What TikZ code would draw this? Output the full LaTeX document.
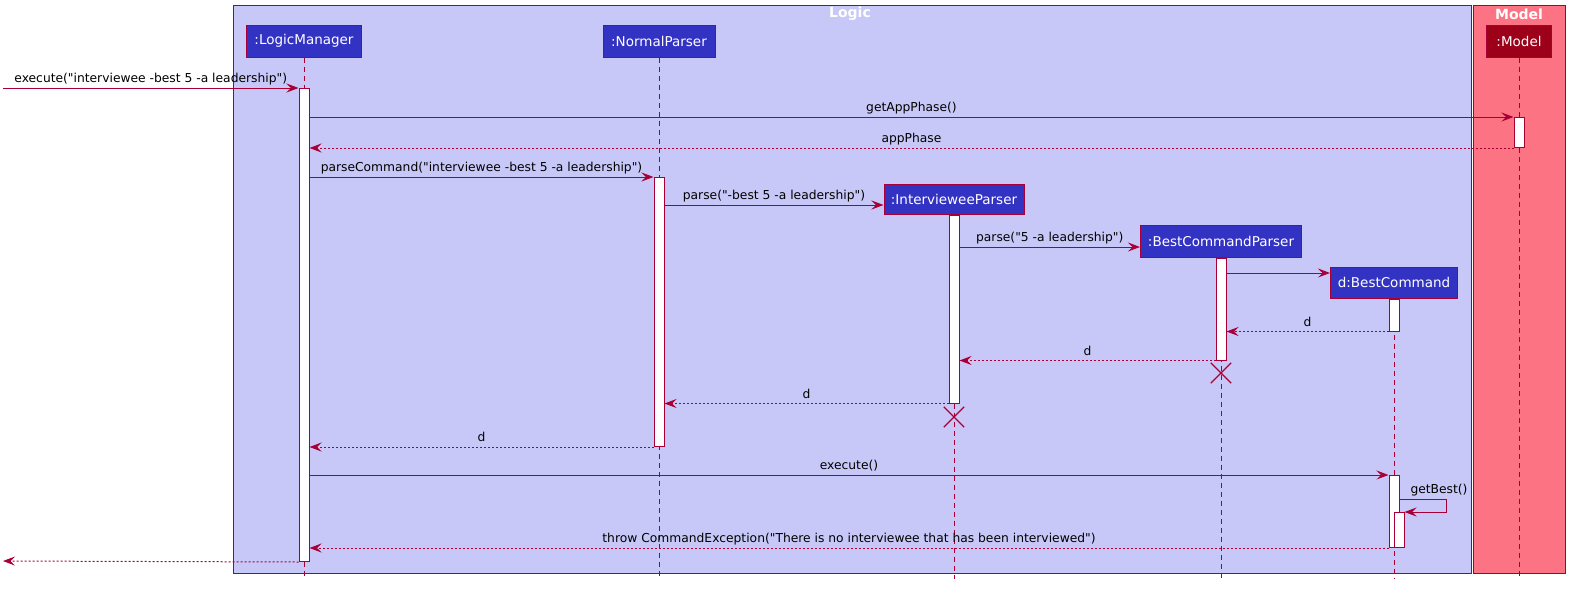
\documentclass[tikz,border=0pt]{standalone}
\usepackage{fontspec}
\setmainfont{DejaVu Sans}[Ligatures=TeXOff]
\usetikzlibrary{arrows.meta, shapes.misc}

\definecolor{umlborder}{HTML}{A80036}
\definecolor{logicfill}{HTML}{C8C8F8}
\definecolor{modelfill}{HTML}{FC7384}
\definecolor{partfill}{HTML}{3333C3}
\definecolor{modelpart}{HTML}{9D0019}

\begin{document}
\begin{tikzpicture}[x=1pt, y=-1pt, line width=1pt, font=\fontsize{12.3}{14}\selectfont]

\tikzset{part/.style = {draw=umlborder, fill=partfill, text=white, minimum height=32pt, inner sep=0pt, font=\fontsize{13.5}{16}\selectfont}}
\tikzset{bar/.style = {draw=umlborder, fill=white, minimum width=10pt, inner sep=0pt, anchor=north}}
\tikzset{lifeline/.style = {draw=umlborder, dash pattern=on 5pt off 4pt}}
\tikzset{msg/.style = {draw=umlborder, -{Stealth[length=12pt, width=9pt, inset=4.5pt]}}}
\tikzset{reply/.style = {msg, dash pattern=on 2pt off 2pt}}
\tikzset{lbl/.style = {above, inner sep=1pt, text depth=3pt, yshift=1pt}}
\tikzset{destroy/.style = {draw=umlborder, cross out, minimum size=19pt, inner sep=0pt, line width=1.3pt}}
\tikzset{boxtitle/.style = {text=white, font=\fontsize{14}{16}\selectfont\bfseries}}

\useasboundingbox (0,0) rectangle (1575,590);

%boxes
\draw [umlborder, fill=logicfill] (233,5) rectangle (1471,573);
\draw [umlborder, fill=modelfill] (1473,5) rectangle (1565,573);
\node [boxtitle] (logic) at (850,14) {Logic};
\node [boxtitle] (model) at (1519,14) {Model};

%participants
\node [part, minimum width=115pt] (lm) at (304,41) {:LogicManager};
\node [part, minimum width=112pt] (np) at (659,41) {:NormalParser};
\node [part, minimum width=65pt, fill=modelpart] (mdl) at (1519,41) {:Model};
\node [part, minimum width=140pt, minimum height=30pt] (ip) at (954,199) {:IntervieweeParser};
\node [part, minimum width=161pt] (bcp) at (1221,241) {:BestCommandParser};
\node [part, minimum width=127pt, minimum height=31pt] (bc) at (1394,282.5) {d:BestCommand};

%lifelines
\coordinate (bottom) at (0,579);
\foreach \p in {lm, np, mdl, ip, bcp, bc}
  \draw [lifeline] (\p.south) -- (\p.south |- bottom);

%activations
\node [bar, minimum height=473pt] (lmbar) at (304,88) {};
\node [bar, minimum height=30pt] (mdlbar) at (1519,117) {};
\node [bar, minimum height=269pt] (npbar) at (659,177) {};
\node [bar, minimum height=188pt] (ipbar) at (ip.south) {};
\node [bar, minimum height=102pt] (bcpbar) at (bcp.south) {};
\node [bar, minimum height=32pt] (bcbar) at (bc.south) {};
\node [bar, minimum height=72pt] (bcbar2) at (1394,475) {};
\node [bar, minimum height=35pt] (bcbar3) at (1399,512) {};

%destroyed
\node [destroy] (ipx) at (954,417) {};
\node [destroy] (bcpx) at (1221,373) {};

%messages
\coordinate (in) at (3,88);
\coordinate (out) at (3,561);
\coordinate (c1) at (0,205);
\coordinate (c2) at (0,247);
\coordinate (c3) at (0,273);
\coordinate (c4) at (1446,499);
\draw [msg] (in) -- (lmbar.north west) node [midway, lbl] {execute("interviewee -best 5 -a leadership")};
\draw [msg] (lmbar.east |- mdlbar.north) -- (mdlbar.north west) node [midway, lbl] {getAppPhase()};
\draw [reply] (mdlbar.south west) -- (lmbar.east |- mdlbar.south) node [midway, lbl] {appPhase};
\draw [msg] (lmbar.east |- npbar.north) -- (npbar.north west) node [midway, lbl] {parseCommand("interviewee -best 5 -a leadership")};
\draw [msg] (npbar.east |- c1) -- (ip.west |- c1) node [midway, lbl] {parse("-best 5 -a leadership")};
\draw [msg] (ipbar.east |- c2) -- (bcp.west |- c2) node [midway, lbl] {parse("5 -a leadership")};
\draw [msg] (bcpbar.east |- c3) -- (bc.west |- c3);
\draw [reply] (bcbar.south west) -- (bcpbar.east |- bcbar.south) node [midway, lbl] {d};
\draw [reply] (bcpbar.south west) -- (ipbar.east |- bcpbar.south) node [midway, lbl] {d};
\draw [reply] (ipbar.south west) -- (npbar.east |- ipbar.south) node [midway, lbl] {d};
\draw [reply] (npbar.south west) -- (lmbar.east |- npbar.south) node [midway, lbl] {d};
\draw [msg] (lmbar.east |- bcbar2.north) -- (bcbar2.north west) node [midway, lbl] {execute()};
\draw [msg] (bcbar2.east |- c4) -- node [lbl, pos=0.85] {getBest()} (c4) |- (bcbar3.north east);
\draw [reply] (bcbar2.south west) -- (lmbar.east |- bcbar2.south) node [midway, lbl] {throw CommandException("There is no interviewee that has been interviewed")};
\draw [reply] (lmbar.south west) -- (out);

\end{tikzpicture}
\end{document}
